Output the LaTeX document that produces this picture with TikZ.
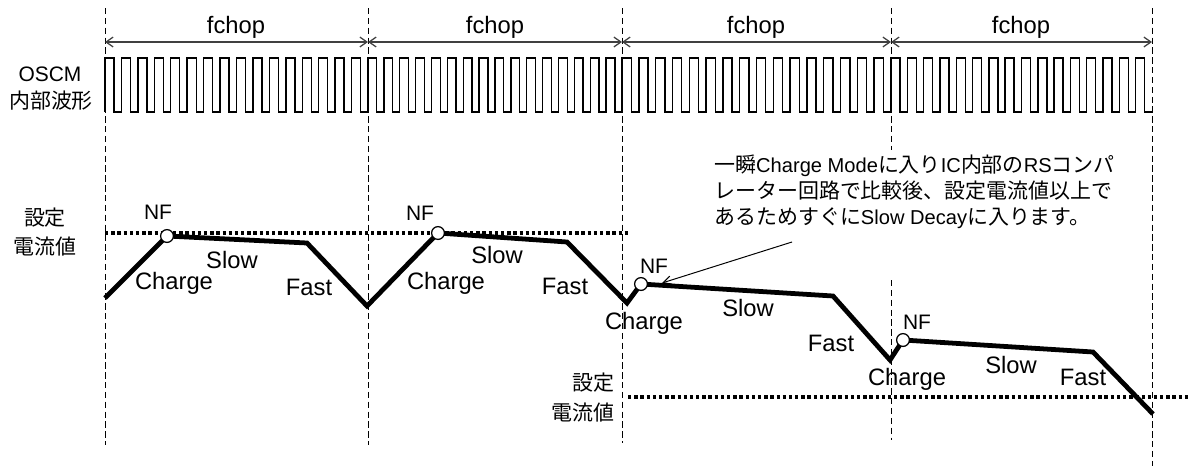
\documentclass[tikz,border=0pt]{standalone}
\usepackage{fontspec}
\setmainfont{Liberation Sans}
\newfontfamily\jp{Noto Sans CJK JP}
\newcommand{\jn}[1]{{\jp\fontsize{14.9}{18.5}\selectfont #1}}
\usetikzlibrary{arrows.meta}

\begin{document}
\begin{tikzpicture}[x=0.025cm, y=-0.025cm,
		guide/.style={line width=0.7pt, dash pattern=on 4.5pt off 2.5pt},
		level/.style={line width=2.2pt, dash pattern=on 2.4pt off 2pt},
		period/.style={line width=0.9pt, black!75, {Straight Barb[length=5pt,width=7pt]}-{Straight Barb[length=5pt,width=7pt]}},
		pointer/.style={line width=0.7pt, -{Straight Barb[length=6pt,width=6pt]}},
		wave/.style={line width=1pt},
		current/.style={line width=3.4pt},
		nf/.style={circle, draw, fill=white, line width=0.9pt, minimum size=0.32cm, inner sep=0pt},
		lbl/.style={font=\fontsize{16.9}{18}\selectfont, inner sep=0pt},
		side/.style={font=\fontsize{14.9}{17}\selectfont, inner sep=0pt},
		note/.style={font=\fontsize{14.3}{18.5}\selectfont, align=left, inner sep=0pt}]
			%%%%% START %%%%%
			\useasboundingbox (0,0) rectangle (1189,468);
			
			\draw[guide] (105,8) -- (105,445);
			\draw[guide] (368,8) -- (368,445);
			\draw[guide] (622,8) -- (622,443);
			\draw[guide] (891,8) -- (891,150);
			\draw[guide] (891,280) -- (891,440);
			\draw[guide] (1152,8) -- (1152,466);
			
			\coordinate (t0) at (105,42);
			\coordinate (t1) at (368,42);
			\coordinate (t2) at (622,42);
			\coordinate (t3) at (891,42);
			\coordinate (t4) at (1152,42);
			\draw[period] (t0) -- (t1);
			\draw[period] (t1) -- (t2);
			\draw[period] (t2) -- (t3);
			\draw[period] (t3) -- (t4);
			\node[lbl] (fc1) at (236,27) {fchop};
			\node[lbl] (fc2) at (495,27) {fchop};
			\node[lbl] (fc3) at (756,27) {fchop};
			\node[lbl] (fc4) at (1021,27) {fchop};
			
			\node[side] (oscm) at (50,74) {OSCM};
			\node[side] (oscmjp) at (51,101) {\jp 内部波形};
			\foreach \a/\p in {105/16.4375, 368/15.875, 622/16.8125, 891/16.3125}
				\draw[wave] (\a,112) \foreach \k in {1,...,16} { -- ++(0,-54) -- ++({0.55*\p},0) -- ++(0,54) -- ++({0.45*\p},0) };
			
			\node[side] (set1) at (45,218) {\jp 設定};
			\node[side] (cur1) at (45,247) {\jp 電流値};
			\draw[level] (105,233) -- (630,233);
			\node[side, anchor=east] (set2) at (615,383) {\jp 設定};
			\node[side, anchor=east] (cur2) at (615,413) {\jp 電流値};
			\draw[level] (628,397) -- (1189,397);
			
			\coordinate (c1) at (167,236);
			\coordinate (c2) at (438,233);
			\coordinate (c3) at (641,284);
			\coordinate (c4) at (903,340);
			\draw[current] (105,298) -- (c1) -- (307,243) -- (367,306) -- (c2) -- (567,242) -- (627,303) -- (c3) -- (833,296) -- (890,360) -- (c4) -- (1093,352) -- (1153,414);
			\node[nf] (nf1) at (c1) {};
			\node[nf] (nf2) at (c2) {};
			\node[nf] (nf3) at (c3) {};
			\node[nf] (nf4) at (c4) {};
			
			\node[side] (nfl1) at (158,212) {NF};
			\node[lbl] (chg1) at (174,283) {Charge};
			\node[lbl] (slw1) at (232,260) {Slow};
			\node[lbl] (fst1) at (309,287) {Fast};
			
			\node[side] (nfl2) at (420,213) {NF};
			\node[lbl] (chg2) at (446,283) {Charge};
			\node[lbl] (slw2) at (497,255) {Slow};
			\node[lbl] (fst2) at (565,286) {Fast};
			
			\node[side] (nfl3) at (654,266) {NF};
			\node[lbl] (chg3) at (644,323) {Charge};
			\node[lbl] (slw3) at (748,308) {Slow};
			\node[lbl] (fst3) at (831,343) {Fast};
			
			\node[side] (nfl4) at (917,322) {NF};
			\node[lbl] (chg4) at (907,379) {Charge};
			\node[lbl] (slw4) at (1011,365) {Slow};
			\node[lbl] (fst4) at (1083,377) {Fast};
			
			\node[note, anchor=north west] (expl) at (714,155) {\jn{一瞬}Charge Mode\jn{に入り}IC\jn{内部の}RS\jn{コンパ}\\\jn{レーター回路で比較後、設定電流値以上で}\\\jn{あるためすぐに}Slow Decay\jn{に入ります。}};
			\coordinate (tail) at (792,242);
			\coordinate (tip) at (662,283);
			\draw[pointer] (tail) -- (tip);
			%%%%% END %%%%%
\end{tikzpicture}
\end{document}
